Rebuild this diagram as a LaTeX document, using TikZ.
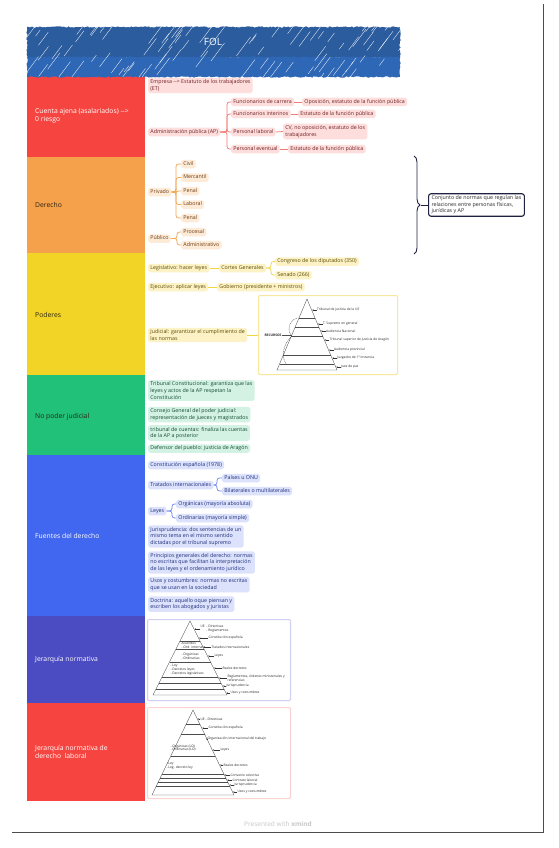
\documentclass[tikz,border=0pt]{standalone}
\usepackage{fontspec}
\setmainfont{Open Sans}
\usetikzlibrary{decorations.pathmorphing,decorations.pathreplacing,arrows.meta,calc}
\definecolor{cR}{HTML}{F64540}
\definecolor{cO}{HTML}{F5A04B}
\definecolor{cY}{HTML}{F2D426}
\definecolor{cG}{HTML}{22C17A}
\definecolor{cB}{HTML}{4166F0}
\definecolor{cI}{HTML}{4B4BC2}
\definecolor{hdA}{HTML}{2B5C9E}
\definecolor{hdB}{HTML}{2E67B5}
\definecolor{rf}{HTML}{FDDEDD}
\definecolor{rt}{HTML}{6E1E1E}
\definecolor{rl}{HTML}{F27B76}
\definecolor{of}{HTML}{FDEBD7}
\definecolor{ot}{HTML}{6B3A12}
\definecolor{ol}{HTML}{F4A552}
\definecolor{yf}{HTML}{FCF2C6}
\definecolor{yt}{HTML}{5C4A00}
\definecolor{yl}{HTML}{F3D540}
\definecolor{gf}{HTML}{D4F2E4}
\definecolor{gt}{HTML}{124A31}
\definecolor{bf}{HTML}{DCE2FC}
\definecolor{bt}{HTML}{1C2C78}
\definecolor{bl}{HTML}{6F89F2}
\definecolor{ybd}{HTML}{F9E7A0}
\definecolor{pbd}{HTML}{CFCFF2}
\definecolor{rbd}{HTML}{FBD2D2}
\definecolor{navy}{HTML}{1E2240}
\definecolor{dk}{HTML}{2B2410}
\newcommand\fsA{\fontsize{5.3}{6.6}\selectfont}
\newcommand\fsL{\fontsize{6.8}{8.4}\selectfont}
\newcommand\fsP{\fontsize{3.3}{3.8}\selectfont}
\tikzset{
 bx/.style={font=\fsA, rounded corners=1.8pt, inner xsep=2.2pt, inner ysep=1.6pt, anchor=west, text height=4pt, text depth=1.3pt},
 bxm/.style={font=\fsA, rounded corners=1.8pt, inner xsep=2.2pt, inner ysep=1.8pt, anchor=west, align=left},
 redbox/.style={fill=rf, text=rt},
 orbox/.style={fill=of, text=ot},
 ylbox/.style={fill=yf, text=yt},
 grbox/.style={fill=gf, text=gt},
 blbox/.style={fill=bf, text=bt},
 ln/.style={line width=0.75pt, rounded corners=2.5pt},
 secl/.style={font=\fsL, anchor=west, align=left, inner sep=0pt},
 plab/.style={font=\fsP, anchor=west, align=left, inner sep=0.3pt, text=black!85},
 pyr/.style={draw=black!70, line width=0.35pt},
 parr/.style={black!80, line width=0.25pt, -{Stealth[length=1.3pt,width=1.3pt]}},
 pbox/.style={line width=1pt, rounded corners=1.2pt, anchor=north west, inner sep=0pt, fill=white}
}
\begin{document}
\begin{tikzpicture}[x=1pt,y=-1pt]
\useasboundingbox (0,0) rectangle (558,848);
\fill[white] (0,0) rectangle (558,848);
% frame lines
\draw[black!70, line width=1pt] (12,832) -- (543,832) -- (543,4);
% section blocks
\fill[cR] (27,73) rectangle (145,157);
\fill[cO] (27,157) rectangle (145,253);
\fill[cY] (27,253) rectangle (145,375);
\fill[cG] (27,375) rectangle (145,455);
\fill[cB] (27,455) rectangle (145,616);
\fill[cI] (27,616) rectangle (145,703);
\fill[cR] (27,703) rectangle (145,801);
\node[secl, text=white] (s1) at (35,116) {Cuenta ajena (asalariados) -{}-{}>\\0 riesgo};
\node[secl, text=dk] (s2) at (35,205) {Derecho};
\node[secl, text=dk] (s3) at (35,315) {Poderes};
\node[secl, text=dk] (s4) at (35,417) {No poder judicial};
\node[secl, text=white] (s5) at (35,536) {Fuentes del derecho};
\node[secl, text=white] (s6) at (35,660) {Jerarquía normativa};
\node[secl, text=white] (s7) at (35,752) {Jerarquía normativa de\\derecho~ laboral};
% header
\fill[hdA, decorate, decoration={random steps,segment length=1.6pt,amplitude=0.7pt}] (27,27) -- (400,27) -- (400,58) -- (27,58) -- cycle;
\fill[hdB, decorate, decoration={random steps,segment length=1.6pt,amplitude=0.7pt}] (27,57) -- (400,57) -- (400,77) -- (27,77) -- cycle;
\pgfmathsetseed{12}
\begin{scope}
\clip (27,27) rectangle (400,77);
\foreach \i in {1,...,90}{
 \pgfmathsetmacro\xa{20+390*rnd}
 \pgfmathsetmacro\ya{30+50*rnd}
 \pgfmathsetmacro\la{5+14*rnd}
 \draw[white,opacity=0.9,line width=0.35pt] (\xa,\ya) -- ++(0.75*\la,-\la);
}
\end{scope}
\node[font=\fontsize{10}{12}\selectfont, text=white] (fol) at (213,42) {FOL};
% ---------- section 1
\node[bxm,redbox] (n11) at (148,85.5) {Empresa -{}-{}> Estatuto de los trabajadores\\(ET)};
\node[bx,redbox] (n12) at (148,132) {Administración pública (AP)};
\coordinate (t12) at (227,132);
\node[bx,redbox] (n13) at (231,102) {Funcionarios de carrera};
\node[bx,redbox] (n14) at (302,102) {Oposición, estatuto de la función pública};
\node[bx,redbox] (n15) at (231,114) {Funcionarios interinos};
\node[bx,redbox] (n16) at (298,114) {Estatuto de la función pública};
\node[bx,redbox] (n17) at (231,132) {Personal laboral};
\node[bxm,redbox] (n18) at (283,131.5) {CV, no oposición, estatuto de los\\trabajadores};
\node[bx,redbox] (n19) at (231,149) {Personal eventual};
\node[bx,redbox] (n20) at (288,149) {Estatuto de la función pública};
\foreach \c in {n13,n15,n17,n19} \draw[ln,rl] (n12.east) -- (n12.east -| t12) |- (\c.west);
\draw[ln,rl] (n13.east) -- (n14.west);
\draw[ln,rl] (n15.east) -- (n16.west);
\draw[ln,rl] (n17.east) -- (n18.west);
\draw[ln,rl] (n19.east) -- (n20.west);
% ---------- section 2
\node[bx,orbox] (n21) at (148,192) {Privado};
\coordinate (t21) at (176,192);
\node[bx,orbox] (n22) at (181,164) {Civil};
\node[bx,orbox] (n23) at (181,177.5) {Mercantil};
\node[bx,orbox] (n24) at (181,191) {Penal};
\node[bx,orbox] (n25) at (181,204.5) {Laboral};
\node[bx,orbox] (n26) at (181,218) {Penal};
\foreach \c in {n22,n23,n24,n25,n26} \draw[ln,ol] (n21.east) -- (n21.east -| t21) |- (\c.west);
\node[bx,orbox] (n27) at (148,238.5) {Público};
\coordinate (t27) at (177,238.5);
\node[bx,orbox] (n28) at (181,232) {Procesal};
\node[bx,orbox] (n29) at (181,245) {Administrativo};
\foreach \c in {n28,n29} \draw[ln,ol] (n27.east) -- (n27.east -| t27) |- (\c.west);
% brace and definition
\draw[navy, line width=0.9pt, decorate, decoration={brace, amplitude=6pt}] (414,156) -- (414,254);
\coordinate (bt) at (420.5,205);
\node[draw=navy, line width=1.1pt, rounded corners=2.5pt, fill=white, anchor=west, align=left, font=\fsA, text=black!85, inner xsep=3pt, inner ysep=2pt] (def) at (428,205) {Conjunto de normas que regulan las\\relaciones entre personas físicas,\\jurídicas y AP};
\draw[navy, line width=0.6pt] (bt) -- (def.west);
% ---------- section 3
\node[bx,ylbox] (n31) at (148,268) {Legislativo: hacer leyes};
\node[bx,ylbox] (n32) at (219,268) {Cortes Generales};
\coordinate (t32) at (271,268);
\node[bx,ylbox] (n33) at (275,261.5) {Congreso de los diputados (350)};
\node[bx,ylbox] (n34) at (275,275) {Senado (266)};
\draw[ln,yl] (n31.east) -- (n32.west);
\foreach \c in {n33,n34} \draw[ln,yl] (n32.east) -- (n32.east -| t32) |- (\c.west);
\node[bx,ylbox] (n35) at (148,287) {Ejecutivo: aplicar leyes};
\node[bx,ylbox] (n36) at (217,287) {Gobierno (presidente + ministros)};
\draw[ln,yl] (n35.east) -- (n36.west);
\node[bxm,ylbox] (n37) at (148,335) {Judicial: garantizar el cumplimiento de\\las normas};
\node[pbox, draw=ybd, minimum width=139pt, minimum height=79pt] (pb1) at (258,295) {};
\draw[ln,yl] (n37.east) -- (pb1.west);
% pyramid 1
\draw[pyr] (307,299) -- (277,370) -- (337,370) -- cycle;
\foreach \yy in {318,327,336,355,364}{
  \pgfmathsetmacro\xl{307-30*(\yy-299)/71}
  \pgfmathsetmacro\xr{307+30*(\yy-299)/71}
  \draw[pyr] (\xl,\yy) -- (\xr,\yy);
}
\foreach \yy/\lab [count=\k] in {310/Tribunal de justicia de la UE, 324/T. Supremo en general, 331/Audiencia Nacional, 340/Tribunal superior de justicia de Aragón, 350/Audiencia provincial, 358/Juzgados de 1ª instancia, 367/Juez de paz}{
  \pgfmathsetmacro\xr{307+30*(\yy-299)/71}
  \coordinate (p1e\k) at (\xr+0.6,\yy);
  \node[plab] (p1l\k) at (\xr+5,\yy) {\lab};
  \draw[parr] (p1l\k.west) -- (p1e\k);
}
\node[plab, font=\bfseries\fsP] (rec) at (264,335) {RECURSOS};
\draw[pyr] (rec.east) -- (292,335);
\draw[pyr, dashed, dash pattern=on 1pt off 0.6pt] (297,318) .. controls (288,321) and (287,332) .. (292,336);
\draw[pyr, dashed, dash pattern=on 1pt off 0.6pt] (292,336) .. controls (283,344) and (281,356) .. (286,364);
% ---------- section 4
\node[bxm,grbox] (n41) at (148,390.5) {Tribunal Constitucional: garantiza que las\\leyes y actos de la AP respetan la\\Constitución};
\node[bxm,grbox] (n42) at (148,414.5) {Consejo General del poder judicial:\\representación de jueces y magistrados};
\node[bxm,grbox] (n43) at (148,433) {tribunal de cuentas: finaliza las cuentas\\de la AP a posterior};
\node[bx,grbox] (n44) at (148,448.5) {Defensor del pueblo: justicia de Aragón};
% ---------- section 5
\node[bx,blbox] (n51) at (148,465) {Constitución española (1978)};
\node[bx,blbox] (n52) at (148,485) {Tratados internacionales};
\coordinate (t52) at (217,485);
\node[bx,blbox] (n53) at (222,478) {Países u ONU};
\node[bx,blbox] (n54) at (222,491) {Bilaterales o multilaterales};
\foreach \c in {n53,n54} \draw[ln,bl] (n52.east) -- (n52.east -| t52) |- (\c.west);
\node[bx,blbox] (n55) at (148,511) {Leyes};
\coordinate (t55) at (172,511);
\node[bx,blbox] (n56) at (176,504) {Orgánicas (mayoría absoluta)};
\node[bx,blbox] (n57) at (176,518) {Ordinarias (mayoría simple)};
\foreach \c in {n56,n57} \draw[ln,bl] (n55.east) -- (n55.east -| t55) |- (\c.west);
\node[bxm,blbox] (n58) at (148,536.5) {Jurisprudencia: dos sentencias de un\\mismo tema en el mismo sentido\\dictadas por el tribunal supremo};
\node[bxm,blbox] (n59) at (148,562.5) {Principios generales del derecho: normas\\no escritas que facilitan la interpretación\\de las leyes y el ordenamiento jurídico};
\node[bxm,blbox] (n60) at (148,584.5) {Usos y costumbres: normas no escritas\\que se usan en la sociedad};
\node[bxm,blbox] (n61) at (148,604) {Doctrina: aquello oque piensan y\\escriben los abogados y juristas};
% ---------- pyramid 2
\node[pbox, draw=pbd, minimum width=143pt, minimum height=81pt] (pb2) at (147,619) {};
\draw[pyr] (190,621) -- (153,695) -- (227,695) -- cycle;
\foreach \yy in {641,649,662,677,683,689}{
  \pgfmathsetmacro\xl{190-37*(\yy-621)/74}
  \pgfmathsetmacro\xr{190+37*(\yy-621)/74}
  \draw[pyr] (\xl,\yy) -- (\xr,\yy);
}
\foreach \yy/\xx/\lab [count=\k] in {629/200/{UE~ - Directivas\\\phantom{UE~ }- Reglamentos}, 638/208/Constitución española, 647/211/Tratados internacionales, 656/214/Leyes, 668/222/Reales decretos, 678/227/{Reglamentos, órdenes ministeriales y\\referencias}, 686/226/Jurisprudencia, 693/230/Usos y costumbres}{
  \pgfmathsetmacro\xr{190+37*(\yy-621)/74}
  \coordinate (p2e\k) at (\xr+0.6,\yy);
  \node[plab] (p2l\k) at (\xx,\yy) {\lab};
  \draw[parr] (p2l\k.west) -- (p2e\k);
}
\node[plab] (p2i1) at (181,645) {Acuerdos\\- Ord. internas};
\node[plab] (p2i2) at (181,656) {- Orgánicas\\- Ordinarias};
\node[plab] (p2i3) at (170,670) {- Ley\\- Decretos leyes\\- Decretos legislativos};
% ---------- pyramid 3
\node[pbox, draw=rbd, minimum width=143pt, minimum height=91pt] (pb3) at (147,707) {};
\draw[pyr] (193,710) -- (152,795) -- (234,795) -- cycle;
\foreach \yy in {724,734,756,774,778,782,786}{
  \pgfmathsetmacro\xl{193-41*(\yy-710)/85}
  \pgfmathsetmacro\xr{193+41*(\yy-710)/85}
  \draw[pyr] (\xl,\yy) -- (\xr,\yy);
}
\foreach \yy/\xx/\lab [count=\k] in {719/200/UE - Directivas, 728/208/Constitución española, 739/207/Organización internacional del trabajo, 750/220/Leyes, 765/223/Reales decretos, 775/230/Convenio colectivo, 780/232/Contrato laboral, 785/234/Jurisprudencia, 792/237/Usos y costumbres}{
  \pgfmathsetmacro\xr{193+41*(\yy-710)/85}
  \coordinate (p3e\k) at (\xr+0.6,\yy);
  \node[plab] (p3l\k) at (\xx,\yy) {\lab};
  \draw[parr] (p3l\k.west) -- (p3e\k);
}
\node[plab] (p3i1) at (170,748) {- Orgánicas (LO)\\- Ordinarias (LO)};
\node[plab] (p3i2) at (166,766) {- Ley\\- Leg. decreto ley};
% footer
\node[font=\fontsize{6.5}{8}\selectfont, text=black!22] (ft) at (278,824) {Presented with \textbf{xmind}};
\end{tikzpicture}
\end{document}
